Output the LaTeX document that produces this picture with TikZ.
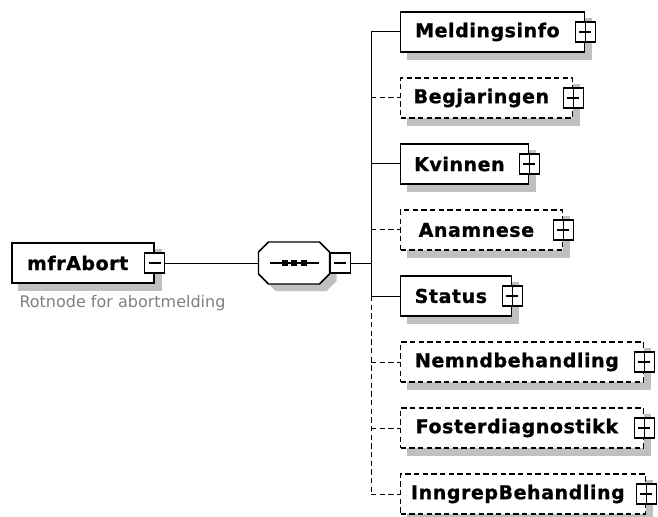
\documentclass[tikz,border=0pt]{standalone}
\usepackage{fontspec}
\setmainfont{DejaVu Sans}
\newfontfamily\elemfont{DejaVu Sans}[UprightFont={* Bold}, LetterSpace=3, FakeBold=1]
\usetikzlibrary{backgrounds}

\definecolor{shadowgray}{RGB}{192,192,192}
\definecolor{docgray}{RGB}{128,128,128}

% octagon round a node: #1 node, #2 dx, #3 dy
\newcommand{\octagonpath}[3]{([shift={(#2,#3+10)}]#1.north west) -- ([shift={(#2+10,#3)}]#1.north west)
  -- ([shift={(#2-10,#3)}]#1.north east) -- ([shift={(#2,#3+10)}]#1.north east)
  -- ([shift={(#2,#3-10)}]#1.south east) -- ([shift={(#2-10,#3)}]#1.south east)
  -- ([shift={(#2+10,#3)}]#1.south west) -- ([shift={(#2,#3-10)}]#1.south west) -- cycle}

\tikzset{every picture/.style={line width=0.75pt}}
\tikzset{
  elem/.style={draw, fill=white, line width=1.1pt, rectangle, anchor=west, inner sep=0pt,
    minimum height=30pt, font=\fontsize{14.25}{16}\selectfont\elemfont, execute at end node={\hspace*{8pt}}},
  optelem/.style={elem, dash pattern=on 4pt off 2.5pt},
  boxw/.style={minimum width=#1*0.75pt},
  optline/.style={dash pattern=on 4pt off 2.5pt},
  pmbox/.style={draw, fill=white, line width=0.9pt, rectangle, inner sep=0pt, minimum size=15pt},
  plusbox/.style={pmbox, path picture={
    \draw[line width=1pt] ([shift={(4,0)}]path picture bounding box.west) -- ([shift={(-4,0)}]path picture bounding box.east)
      ([shift={(0,4)}]path picture bounding box.north) -- ([shift={(0,-4)}]path picture bounding box.south);}},
  minusbox/.style={pmbox, path picture={
    \draw[line width=1pt] ([shift={(4,0)}]path picture bounding box.west) -- ([shift={(-4,0)}]path picture bounding box.east);}},
  seqbody/.style={rectangle, inner sep=0pt, minimum width=52.5pt, minimum height=30.75pt},
  seqline/.style={draw, fill=white, line width=1.1pt, path picture={
    \draw[black, line width=1pt] ([shift={(-24,0)}]path picture bounding box.center) -- ([shift={(25,0)}]path picture bounding box.center);
    \foreach \dx in {-9.5,0,9.5}
      \fill[black] ([shift={(\dx-3,-3)}]path picture bounding box.center) rectangle ([shift={(\dx+3,3)}]path picture bounding box.center);}},
  doc/.style={text=docgray, inner sep=0pt, font=\fontsize{12}{14}\selectfont}
}

\begin{document}
\begin{tikzpicture}[x=0.75pt,y=0.75pt,yscale=-1,xscale=1]
\useasboundingbox (0,0) rectangle (658,517);

% Root element
\node[elem, boxw=142, anchor=center] (root) at (83,263) {mfrAbort};
\node[minusbox] (rootm) at (root.east) {};
\node[doc, anchor=west] (rootdoc) at (19,303) {Rotnode for abortmelding};

% Sequence
\node[seqbody] (seq) at (294,263) {};
\path[seqline] \octagonpath{seq}{0}{0};
\node[minusbox, anchor=west] (seqm) at (seq.east) {};
\coordinate (bus) at (371,263);

% Children
\node[elem, boxw=184] (m1) at (400,32) {Meldingsinfo};
\node[optelem, boxw=172] (m2) at (400,98) {Begjaringen};
\node[elem, boxw=128] (m3) at (400,164) {Kvinnen};
\node[optelem, boxw=162] (m4) at (400,230) {Anamnese};
\node[elem, boxw=111] (m5) at (400,296) {Status};
\node[optelem, boxw=243] (m6) at (400,362) {Nemndbehandling};
\node[optelem, boxw=243] (m7) at (400,428) {Fosterdiagnostikk};
\node[optelem, boxw=245] (m8) at (400,494) {InngrepBehandling};

% Plus boxes
\node[plusbox] (p1) at (m1.east) {};
\node[plusbox] (p2) at (m2.east) {};
\node[plusbox] (p3) at (m3.east) {};
\node[plusbox] (p4) at (m4.east) {};
\node[plusbox] (p5) at (m5.east) {};
\node[plusbox] (p6) at (m6.east) {};
\node[plusbox] (p7) at (m7.east) {};
\node[plusbox] (p8) at (m8.east) {};

% Connectors
\draw (rootm.east) -- (seq.west);
\draw (seqm.east) -- (bus);
\draw (m1.west -| bus) -- (m5.west -| bus);
\draw[optline] (m5.west -| bus) -- (m8.west -| bus);
\draw (m1.west -| bus) -- (m1.west);
\draw[optline] (m2.west -| bus) -- (m2.west);
\draw (m3.west -| bus) -- (m3.west);
\draw[optline] (m4.west -| bus) -- (m4.west);
\draw (m5.west -| bus) -- (m5.west);
\draw[optline] (m6.west -| bus) -- (m6.west);
\draw[optline] (m7.west -| bus) -- (m7.west);
\draw[optline] (m8.west -| bus) -- (m8.west);

% Shadows
\begin{scope}[on background layer]
  \foreach \n in {root,m1,m2,m3,m4,m5,m6,m7,m8}
    \fill[shadowgray] ([shift={(7,7)}]\n.north west) rectangle ([shift={(7,7)}]\n.south east);
  \fill[shadowgray] \octagonpath{seq}{7}{7};
\end{scope}
\end{tikzpicture}
\end{document}
